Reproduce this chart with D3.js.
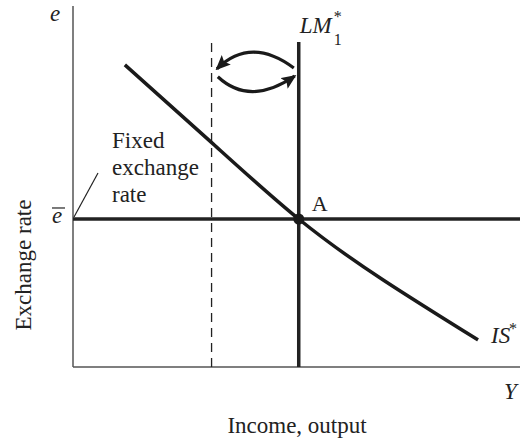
<!DOCTYPE html>
<html lang="en">
<head>
    <meta charset="UTF-8">
    <title>Fixed exchange rate: IS*-LM*</title>
    <script src="https://d3js.org/d3.v7.min.js"></script>
    <style>
        body { margin: 0; background: #fff; }
        text { font-family: "Liberation Serif", "Times New Roman", serif; fill: #222; }
        .it { font-style: italic; }
    </style>
</head>
<body>
    <div id="chart"></div>
    <script>
        // Data (chart units: both axes run 0..100)
        const xDomain = [0, 100];
        const yDomain = [0, 100];
        const isCurve = [[11.6, 83.7], [30.9, 62.3], [50.5, 41], [69.4, 24.1], [90.6, 7.5]];
        const lmLine = [[50.5, 0], [50.5, 90]];
        const dashedLine = [[31, 0], [31, 90]];
        const fixedRate = [[0, 41], [100, 41]];
        const pointA = [50.5, 41];
        // arrows: start, apex, end
        const upperArrow = [[49.4, 82.8], [40.3, 87.2], [32.2, 82.6]];
        const lowerArrow = [[32.4, 80.4], [40.3, 76.3], [49.6, 80.6]];
        const labelLines = ["Fixed", "exchange", "rate"];

        const width = 520, height = 442;
        const margin = {top: 6, right: 0, bottom: 75, left: 73};

        const svg = d3.select("#chart").append("svg")
            .attr("width", width)
            .attr("height", height);

        const x = d3.scaleLinear().domain(xDomain).range([margin.left, width - margin.right]);
        const y = d3.scaleLinear().domain(yDomain).range([height - margin.bottom, margin.top]);

        const defs = svg.append("defs");
        defs.append("marker")
            .attr("id", "head")
            .attr("viewBox", "0 0 15 13")
            .attr("refX", 13)
            .attr("refY", 6.5)
            .attr("markerUnits", "userSpaceOnUse")
            .attr("markerWidth", 15)
            .attr("markerHeight", 13)
            .attr("orient", "auto")
            .append("path")
            .attr("d", "M0,0 L15,6.5 L0,13 L3,6.5 Z")
            .attr("fill", "#1a1a1a");

        const line = d3.line().x(d => x(d[0])).y(d => y(d[1]));

        // axes (plain lines, no ticks)
        svg.append("line")
            .attr("x1", x(0)).attr("x2", x(0))
            .attr("y1", y(100)).attr("y2", y(0))
            .attr("stroke", "#555").attr("stroke-width", 1.5);
        svg.append("line")
            .attr("x1", x(0)).attr("x2", x(100))
            .attr("y1", y(0)).attr("y2", y(0))
            .attr("stroke", "#555").attr("stroke-width", 1.5);

        // dashed LM shift
        svg.append("path")
            .attr("d", line(dashedLine))
            .attr("stroke", "#222").attr("stroke-width", 1.3)
            .attr("stroke-dasharray", "9,6")
            .attr("fill", "none");

        // fixed exchange rate line
        svg.append("path")
            .attr("d", line(fixedRate))
            .attr("stroke", "#222").attr("stroke-width", 3.5)
            .attr("fill", "none");

        // LM*
        svg.append("path")
            .attr("d", line(lmLine))
            .attr("stroke", "#222").attr("stroke-width", 3.5)
            .attr("fill", "none");

        // IS*
        svg.append("path")
            .attr("d", d3.line().x(d => x(d[0])).y(d => y(d[1])).curve(d3.curveNatural)(isCurve))
            .attr("stroke", "#1a1a1a").attr("stroke-width", 3.5)
            .attr("fill", "none");

        // equilibrium point
        svg.append("circle")
            .attr("cx", x(pointA[0])).attr("cy", y(pointA[1]))
            .attr("r", 5.5).attr("fill", "#1a1a1a");

        // curved arrows
        function arc(pts) {
            const [s, a, e] = pts.map(p => [x(p[0]), y(p[1])]);
            const cx = 2 * a[0] - (s[0] + e[0]) / 2;
            const cy = 2 * a[1] - (s[1] + e[1]) / 2;
            const p = d3.path();
            p.moveTo(s[0], s[1]);
            p.quadraticCurveTo(cx, cy, e[0], e[1]);
            return p.toString();
        }
        [upperArrow, lowerArrow].forEach(a => {
            svg.append("path")
                .attr("d", arc(a))
                .attr("stroke", "#1a1a1a").attr("stroke-width", 3.2)
                .attr("fill", "none")
                .attr("marker-end", "url(#head)");
        });

        // leader line for label
        svg.append("line")
            .attr("x1", x(0) + 1).attr("y1", y(41) - 2)
            .attr("x2", x(0) + 25).attr("y2", y(41) - 46)
            .attr("stroke", "#222").attr("stroke-width", 1.2);

        // texts
        svg.append("text").attr("class", "it")
            .attr("x", 50).attr("y", 21)
            .attr("font-size", 23).text("e");

        // e with bar
        svg.append("text").attr("class", "it")
            .attr("x", 52).attr("y", y(41) + 4)
            .attr("font-size", 23).text("e");
        svg.append("line")
            .attr("x1", 52).attr("x2", 65)
            .attr("y1", y(41) - 11).attr("y2", y(41) - 11)
            .attr("stroke", "#222").attr("stroke-width", 1.2);

        const lm = svg.append("text").attr("x", x(50.5) + 1).attr("y", 33).attr("font-size", 23);
        lm.append("tspan").attr("class", "it").text("LM");
        svg.append("text").attr("x", x(50.5) + 35).attr("y", 45).attr("font-size", 16).text("1");
        svg.append("text").attr("x", x(50.5) + 35).attr("y", 22).attr("font-size", 16).text("*");

        svg.append("text")
            .attr("x", x(pointA[0]) + 13).attr("y", y(pointA[1]) - 8)
            .attr("font-size", 22).text("A");

        svg.append("text").attr("class", "it")
            .attr("x", 491).attr("y", 343)
            .attr("font-size", 23).text("IS");
        svg.append("text")
            .attr("x", 509).attr("y", 334)
            .attr("font-size", 16).text("*");

        svg.append("text").attr("class", "it")
            .attr("x", 504).attr("y", 399)
            .attr("font-size", 23).text("Y");

        svg.append("g").selectAll("text")
            .data(labelLines)
            .join("text")
            .attr("x", 112)
            .attr("y", (d, i) => 148 + i * 27)
            .attr("font-size", 23)
            .text(d => d);

        svg.append("text")
            .attr("x", 297).attr("y", 433)
            .attr("text-anchor", "middle")
            .attr("font-size", 23)
            .text("Income, output");

        svg.append("text")
            .attr("transform", "translate(31,265) rotate(-90)")
            .attr("text-anchor", "middle")
            .attr("font-size", 23)
            .text("Exchange rate");
    </script>
</body>
</html>
